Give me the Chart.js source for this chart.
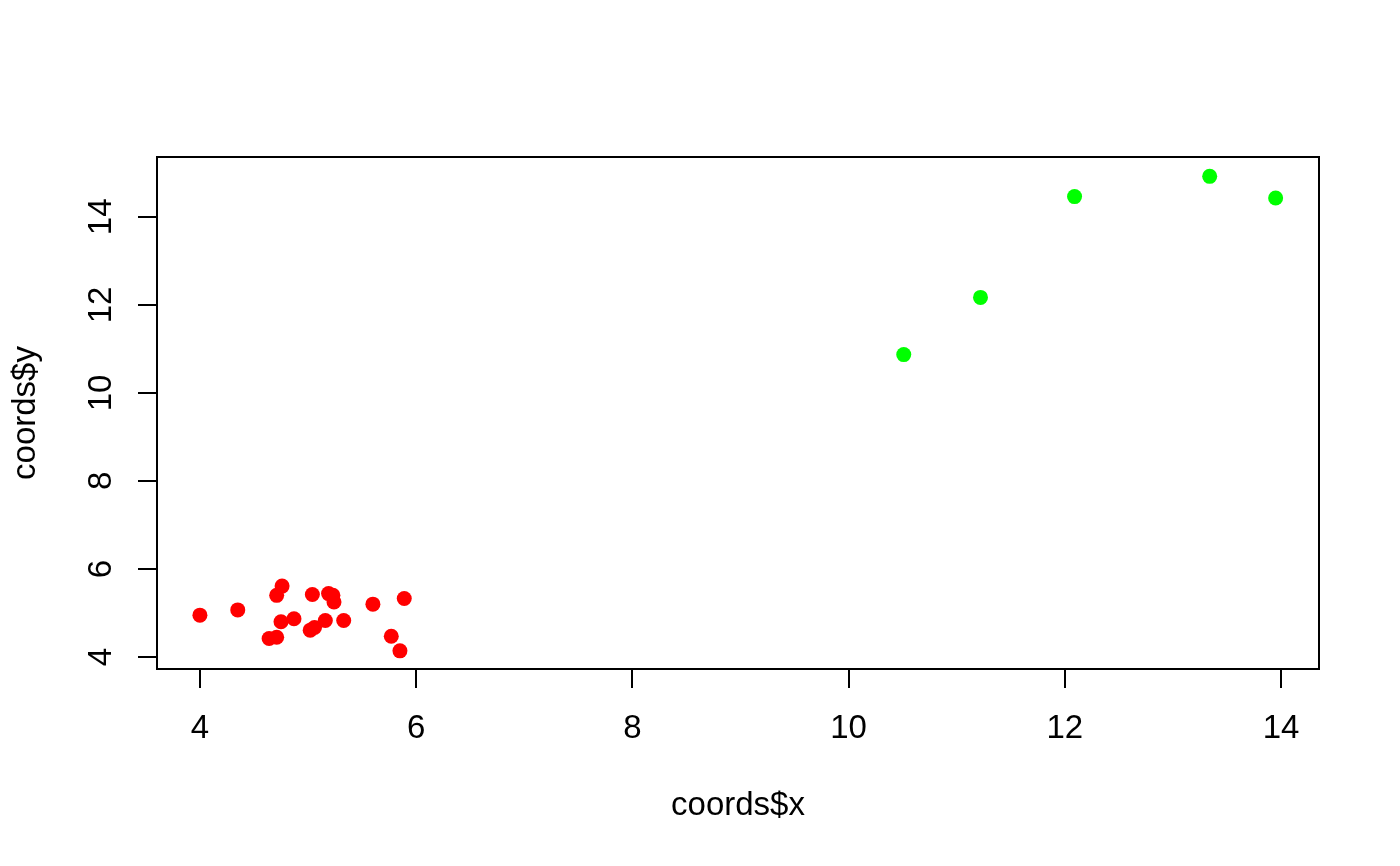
<!DOCTYPE html>
<html>
<head>
<meta charset="utf-8">
<script src="https://cdn.jsdelivr.net/npm/chart.js@4/dist/chart.umd.min.js"></script>
<style>
  html, body { margin: 0; padding: 0; background: #fff; }
  #wrap { width: 1400px; height: 866px; }
</style>
</head>
<body>
<div id="wrap"><canvas id="chart" width="1400" height="866"></canvas></div>
<script>
// points
const redX = [4.00, 4.35, 4.76, 4.71, 4.75, 4.87, 4.64, 4.71, 5.04, 5.19, 5.23, 5.24, 5.02, 5.06, 5.16, 5.33, 5.60, 5.89, 5.77, 5.85];
const redY = [4.95, 5.07, 5.61, 5.40, 4.80, 4.87, 4.42, 4.45, 5.42, 5.44, 5.40, 5.25, 4.61, 4.67, 4.83, 4.83, 5.20, 5.33, 4.47, 4.14];
const greenX = [10.51, 11.22, 12.09, 13.34, 13.95];
const greenY = [10.87, 12.17, 14.46, 14.92, 14.43];

const xTicks = [4, 6, 8, 10, 12, 14];
const yTicks = [4, 6, 8, 10, 12, 14];
const xLabel = 'coords$x';
const yLabel = 'coords$y';

const toPoints = (xs, ys) => xs.map((x, i) => ({ x: x, y: ys[i] }));

// box around the plot region, like R's box()
const boxPlugin = {
    id: 'box',
    afterDraw(chart) {
        const { ctx, chartArea } = chart;
        ctx.save();
        ctx.strokeStyle = '#000';
        ctx.lineWidth = 2;
        ctx.strokeRect(chartArea.left, chartArea.top, chartArea.right - chartArea.left, chartArea.bottom - chartArea.top);
        ctx.restore();
    }
};

const font = { family: 'Liberation Sans, Arial, sans-serif', size: 33 };

new Chart(document.getElementById('chart'), {
    type: 'scatter',
    data: {
        datasets: [
            {
                data: toPoints(redX, redY),
                backgroundColor: '#ff0000',
                borderWidth: 0,
                pointRadius: 7.5
            },
            {
                data: toPoints(greenX, greenY),
                backgroundColor: '#00ff00',
                borderWidth: 0,
                pointRadius: 7.5
            }
        ]
    },
    options: {
        responsive: false,
        animation: false,
        layout: { padding: { top: 157, right: 81, left: 0, bottom: 0 } },
        plugins: {
            legend: { display: false },
            tooltip: { enabled: false }
        },
        scales: {
            x: {
                type: 'linear',
                min: 3.603,
                max: 14.351,
                afterFit: (scale) => { scale.height = 197; },
                afterBuildTicks: (scale) => { scale.ticks = xTicks.map(v => ({ value: v })); },
                border: { display: false },
                grid: { drawOnChartArea: false, drawTicks: true, tickLength: 19, color: '#000', lineWidth: 2 },
                ticks: { color: '#000', font: font, padding: 21, maxRotation: 0, minRotation: 0 },
                title: { display: true, text: xLabel, color: '#000', font: font, padding: { top: 0, bottom: 40 } }
            },
            y: {
                type: 'linear',
                min: 3.727,
                max: 15.36,
                afterFit: (scale) => { scale.width = 157; },
                afterBuildTicks: (scale) => { scale.ticks = yTicks.map(v => ({ value: v })); },
                border: { display: false },
                grid: { drawOnChartArea: false, drawTicks: true, tickLength: 19, color: '#000', lineWidth: 2 },
                ticks: { color: '#000', font: font, padding: 18, minRotation: 90, maxRotation: 90, crossAlign: 'center' },
                title: { display: true, text: yLabel, color: '#000', font: font, padding: { top: 6, bottom: 0 } }
            }
        }
    },
    plugins: [boxPlugin]
});
</script>
</body>
</html>
